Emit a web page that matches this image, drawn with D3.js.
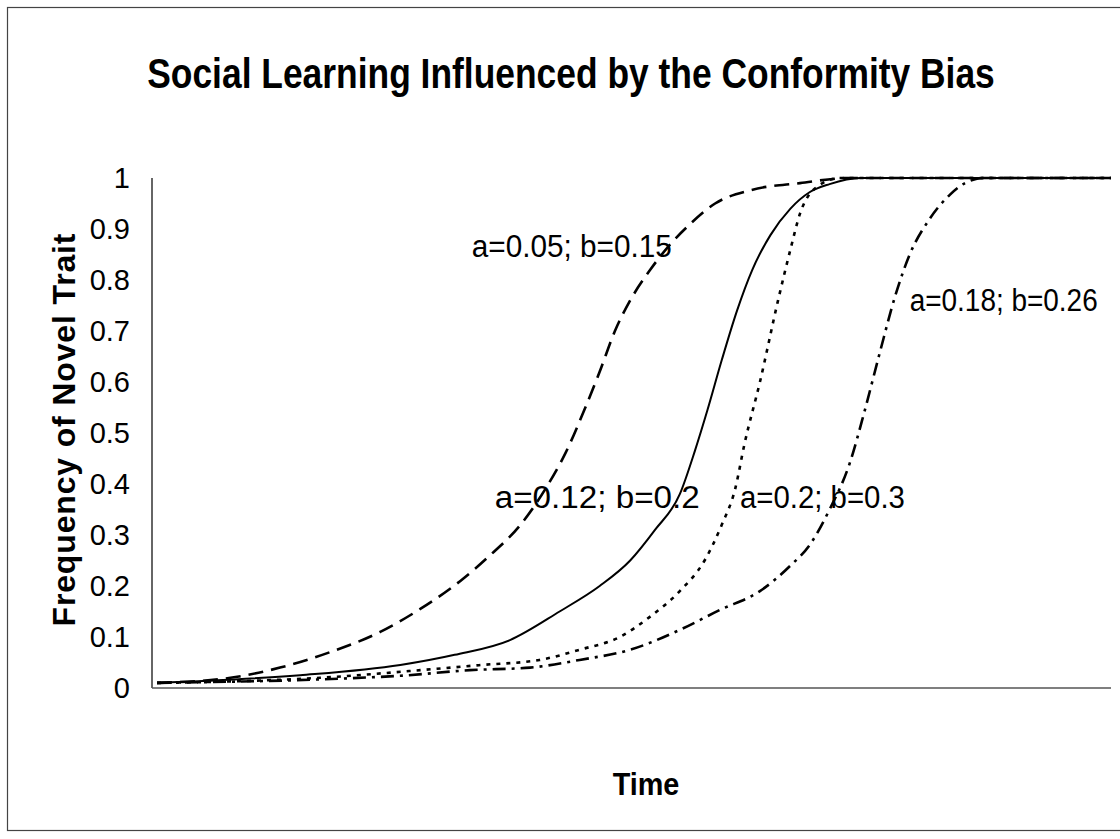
<!DOCTYPE html>
<html lang="en">
<head>
    <meta charset="UTF-8">
    <title>conformity bias</title>
    <script src="https://d3js.org/d3.v7.min.js"></script>
    <style>
        body{ margin:0; background:#fff; }
        text{ font-family:"Liberation Sans", Arial, sans-serif; fill:#000; }
    </style>
</head>
<body>
<svg id="main" width="1120" height="839"></svg>

<script>
    // time steps (no ticks on the x axis) and frequency of the novel trait
    let t_dash = [0, 7.7, 12.9, 18.1, 23.4, 27.6, 31.8, 34.9, 38.1, 40.7, 42.8, 44.9, 46.4, 48.0, 49.6, 51.7, 53.8, 55.9, 58.5, 62.2, 67.4, 72.6, 100]
    let f_dash = [0.01, 0.02, 0.04, 0.07, 0.11, 0.155, 0.21, 0.26, 0.32, 0.39, 0.46, 0.55, 0.62, 0.70, 0.76, 0.82, 0.87, 0.91, 0.95, 0.976, 0.99, 1, 1]

    let t_solid = [0, 15.0, 25.5, 31.2, 37.0, 42.2, 46.4, 49.6, 52.2, 54.8, 56.4, 57.7, 59.2, 60.8, 62.4, 64.3, 66.4, 68.4, 70.5, 73.7, 100]
    let f_solid = [0.01, 0.025, 0.045, 0.065, 0.094, 0.15, 0.2, 0.25, 0.31, 0.38, 0.466, 0.545, 0.643, 0.74, 0.82, 0.888, 0.94, 0.972, 0.988, 1, 1]

    let t_dot = [0, 17.1, 27.6, 33.9, 40.1, 44.3, 48.5, 51.7, 54.8, 57.4, 59.2, 60.6, 61.6, 63.2, 65.1, 66.4, 67.4, 69.0, 71.6, 100]
    let f_dot = [0.01, 0.02, 0.035, 0.045, 0.055, 0.075, 0.10, 0.14, 0.19, 0.25, 0.32, 0.39, 0.48, 0.60, 0.76, 0.86, 0.93, 0.98, 1, 1]

    let t_dashdot = [0, 25.5, 32.8, 39.1, 44.3, 49.6, 54.8, 59.0, 63.2, 66.4, 68.4, 70.5, 72.6, 74.2, 75.8, 77.4, 78.9, 81.0, 83.1, 84.7, 86.8, 100]
    let f_dashdot = [0.01, 0.024, 0.035, 0.04, 0.055, 0.075, 0.114, 0.153, 0.19, 0.24, 0.28, 0.35, 0.44, 0.545, 0.66, 0.77, 0.85, 0.92, 0.967, 0.99, 1, 1]

    let y_ticks = [0, 0.1, 0.2, 0.3, 0.4, 0.5, 0.6, 0.7, 0.8, 0.9, 1]
    let labels = ["a=0.05; b=0.15", "a=0.12; b=0.2", "a=0.2; b=0.3", "a=0.18; b=0.26"]
    let label_t = [33.0, 35.4, 61.1, 78.9]
    let label_f = [0.867, 0.375, 0.375, 0.76]
    let label_w = [200, 205, 165, 188]

    let svg = d3.select("#main")
    let mLeft = 152, mRight = 1111, mTop = 178, mBottom = 688

    let x = d3.scaleLinear().domain([0, 100]).range([mLeft + 5, mRight])
    let y = d3.scaleLinear().domain([0, 1]).range([mBottom, mTop])

    // frame round the chart area (right side runs off the picture)
    svg.append("rect")
        .attr("x", 7.5).attr("y", 7.5)
        .attr("width", 1130).attr("height", 823)
        .attr("fill", "none").attr("stroke", "#444").attr("stroke-width", 1.2)

    svg.append("text")
        .attr("transform", "translate(571,88) scale(0.843,1)")
        .attr("text-anchor", "middle")
        .attr("font-size", 42).attr("font-weight", "bold")
        .text("Social Learning Influenced by the Conformity Bias")

    // axes: plain lines, tick labels on y only
    svg.append("line")
        .attr("x1", mLeft).attr("x2", mLeft).attr("y1", mTop).attr("y2", mBottom)
        .attr("stroke", "#333").attr("stroke-width", 1.5)
    svg.append("line")
        .attr("x1", mLeft).attr("x2", mRight).attr("y1", mBottom).attr("y2", mBottom)
        .attr("stroke", "#555").attr("stroke-width", 1.5)

    let yAxis = d3.axisLeft(y).tickValues(y_ticks).tickSize(0).tickPadding(22)
        .tickFormat(d => d === 0 || d === 1 ? d3.format("d")(d) : d3.format(".1f")(d))
    let gy = svg.append("g").attr("transform", `translate(${mLeft},0)`).call(yAxis)
    gy.select(".domain").remove()
    gy.selectAll("text")
        .attr("font-size", 29)
        .attr("font-family", "Liberation Sans, Arial, sans-serif")
        .attr("fill", "#000")

    svg.append("text")
        .attr("transform", "translate(75,430) rotate(-90)")
        .attr("text-anchor", "middle")
        .attr("font-size", 32).attr("font-weight", "bold")
        .attr("textLength", 393).attr("lengthAdjust", "spacing")
        .text("Frequency of Novel Trait")

    svg.append("text")
        .attr("transform", "translate(646,795) scale(0.93,1)")
        .attr("text-anchor", "middle")
        .attr("font-size", 31).attr("font-weight", "bold")
        .text("Time")

    let line = d3.line().x(d => x(d[0])).y(d => y(d[1])).curve(d3.curveMonotoneX)

    let series = [
        {t: t_dash, f: f_dash, dash: "15,8", w: 2.6},
        {t: t_solid, f: f_solid, dash: null, w: 2},
        {t: t_dot, f: f_dot, dash: "4,6", w: 2.6},
        {t: t_dashdot, f: f_dashdot, dash: "13,6,3,6", w: 2.6}
    ]
    series.forEach(s => {
        svg.append("path")
            .datum(d3.zip(s.t, s.f))
            .attr("d", line)
            .attr("fill", "none")
            .attr("stroke", "#000")
            .attr("stroke-width", s.w)
            .attr("stroke-dasharray", s.dash)
    })

    labels.forEach((l, i) => {
        svg.append("text")
            .attr("x", x(label_t[i])).attr("y", y(label_f[i]) + 11)
            .attr("font-size", 31)
            .attr("textLength", label_w[i]).attr("lengthAdjust", "spacingAndGlyphs")
            .text(l)
    })
</script>
</body>
</html>
